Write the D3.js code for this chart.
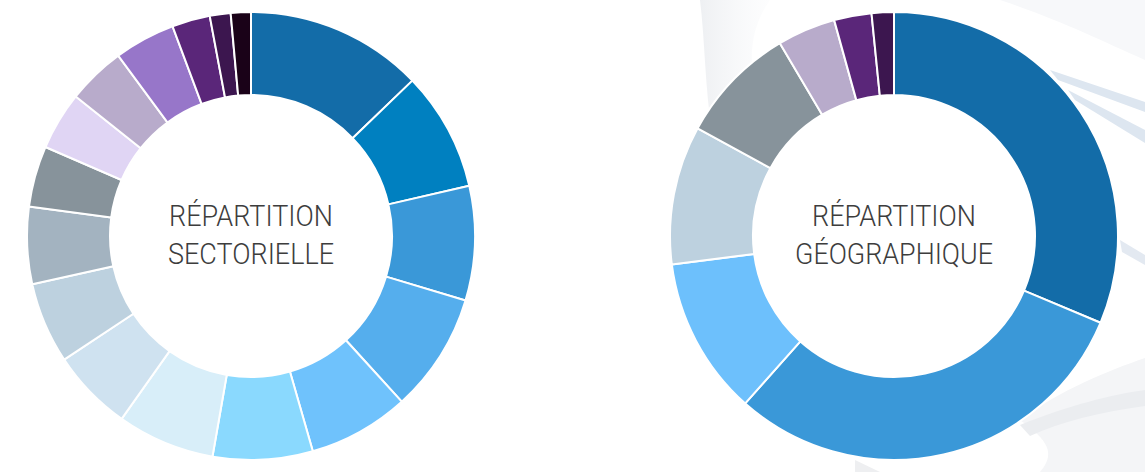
<!DOCTYPE html>
<html>
<head>
<meta charset="utf-8">
<script src="https://cdn.jsdelivr.net/npm/d3@7"></script>
<style>
  html, body { margin: 0; padding: 0; background: #ffffff; }
  svg { display: block; }
</style>
</head>
<body>
<svg id="chart" width="1145" height="472"></svg>
<script>
// ---- Data (shares in %) ----
const sectorValues = [12.8, 8.6, 8.25, 8.6, 7.3, 7.2, 7.05, 5.9, 5.85, 5.55, 4.4, 4.2, 4.2, 4.4, 2.75, 1.5, 1.45];
const sectorColors = ["#136ca8", "#0080c0", "#3a98d8", "#55aeed", "#6fc2fc", "#8ad9fe", "#d8eef9", "#cfe2f0",
                      "#bdd1df", "#a3b3c0", "#87939b", "#e0d5f4", "#b8abcb", "#9776c9", "#5a2679", "#3c164f", "#1a0218"];
const sectorTitle = ["RÉPARTITION", "SECTORIELLE"];

const geoValues = [31.3, 30.2, 11.4, 10.0, 8.5, 4.2, 2.7, 1.6];
const geoColors = ["#136ca8", "#3a98d8", "#6dc0fc", "#bdd1df", "#87939b", "#b8abcb", "#5a2679", "#3c164f"];
const geoTitle = ["RÉPARTITION", "GÉOGRAPHIQUE"];

const svg = d3.select("#chart");

// ---- faint decorative background (right side) ----
const bg = svg.append("g").attr("class", "background");
const defs = svg.append("defs");
const g1 = defs.append("linearGradient").attr("id", "fade1").attr("x1", 0).attr("y1", 0).attr("x2", 1).attr("y2", 0);
g1.append("stop").attr("offset", "0%").attr("stop-color", "#eceef1").attr("stop-opacity", 0.9);
g1.append("stop").attr("offset", "100%").attr("stop-color", "#f8f9fb").attr("stop-opacity", 0.3);
bg.append("path")
  .attr("d", "M700,0 C705,40 705,90 712,130 L760,100 C745,60 752,25 770,0 Z")
  .attr("fill", "url(#fade1)");
bg.append("path")
  .attr("d", "M1000,0 L1145,0 L1145,60 C1100,40 1060,20 1000,0 Z")
  .attr("fill", "#f7f8fa");
bg.append("path")
  .attr("d", "M1050,70 L1145,102 L1145,112 L1058,80 Z")
  .attr("fill", "#dde6f0");
bg.append("path")
  .attr("d", "M1068,90 L1145,130 L1145,143 L1075,100 Z")
  .attr("fill", "#dde6f0");
bg.append("path")
  .attr("d", "M1120,240 L1145,255 L1145,265 L1122,252 Z")
  .attr("fill", "#e3e9f1");
bg.append("path")
  .attr("d", "M1020,420 C1060,390 1110,370 1145,358 L1145,472 L1040,472 C1060,450 1040,435 1020,420 Z")
  .attr("fill", "#f4f5f7");
bg.append("path")
  .attr("d", "M1020,425 C1070,405 1110,395 1145,390 L1145,406 C1100,412 1060,422 1030,436 Z")
  .attr("fill", "#ebedf0");
bg.append("path")
  .attr("d", "M855,460 L880,472 L855,472 Z")
  .attr("fill", "#eeeff1");

// ---- donuts ----
const outerR = 224, innerR = 141;
const arc = d3.arc().innerRadius(innerR).outerRadius(outerR);
const pie = d3.pie().sort(null).value(d => d);

function donut(cx, cy, values, colors, title, widths) {
  const g = svg.append("g").attr("transform", `translate(${cx},${cy})`);
  g.append("circle").attr("r", innerR).attr("fill", "#ffffff");
  g.selectAll("path.slice")
    .data(pie(values))
    .join("path")
    .attr("class", "slice")
    .attr("d", arc)
    .attr("fill", (d, i) => colors[i])
    .attr("stroke", "#ffffff")
    .attr("stroke-width", 2)
    .attr("stroke-linejoin", "round");
  g.selectAll("text.title")
    .data(title)
    .join("text")
    .attr("class", "title")
    .attr("x", 0)
    .attr("y", (d, i) => -10 + i * 38)
    .attr("text-anchor", "middle")
    .attr("font-family", "Roboto, 'Noto Sans', sans-serif")
    .attr("font-weight", 300)
    .attr("font-size", 30)
    .attr("fill", "#3d3d3d")
    .attr("textLength", (d, i) => widths[i])
    .attr("lengthAdjust", "spacingAndGlyphs")
    .text(d => d);
}

donut(251, 236, sectorValues, sectorColors, sectorTitle, [164, 166]);
donut(894, 236, geoValues, geoColors, geoTitle, [164, 198]);
</script>
</body>
</html>
